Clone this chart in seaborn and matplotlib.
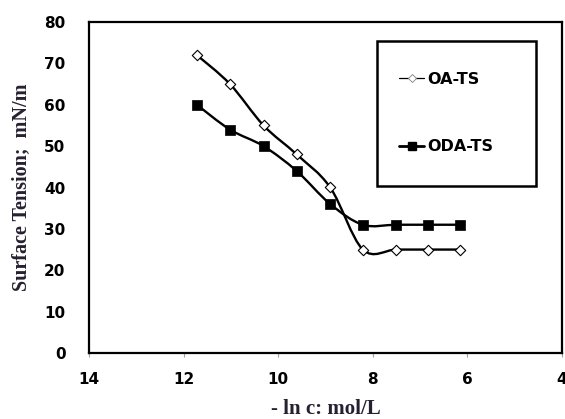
import numpy as np
import matplotlib
matplotlib.use("Agg")
import matplotlib.pyplot as plt
import seaborn as sns
import pandas as pd
from matplotlib.path import Path
from matplotlib.patches import PathPatch, Rectangle
from matplotlib.lines import Line2D

# -ln c (c in mol/L) and measured surface tension (mN/m)
neg_ln_c = [11.72, 11.02, 10.31, 9.61, 8.90, 8.21, 7.51, 6.83, 6.15]
oa_ts = [72, 65, 55, 48, 40, 25, 25, 25, 25]
oda_ts = [60, 54, 50, 44, 36, 31, 31, 31, 31]
series_names = ["OA-TS", "ODA-TS"]

x_ticks = [14, 12, 10, 8, 6, 4]
y_ticks = [0, 10, 20, 30, 40, 50, 60, 70, 80]

sns.set_theme(style="white")
plt.rcParams["font.family"] = ["DejaVu Sans"]
plt.rcParams["text.color"] = "black"
plt.rcParams["xtick.color"] = "black"
plt.rcParams["ytick.color"] = "black"

df = pd.DataFrame({"x": neg_ln_c * 2,
                   "y": oa_ts + oda_ts,
                   "series": [series_names[0]] * len(neg_ln_c) + [series_names[1]] * len(neg_ln_c)})

fig = plt.figure(figsize=(5.65, 4.19), dpi=100)
ax = fig.add_axes([89 / 565, 66 / 419, 473 / 565, 331 / 419])


def smooth_path(xs, ys):
    """Cubic Bezier path through the points (Catmull-Rom style tangents)."""
    pts = np.column_stack([xs, ys]).astype(float)
    n = len(pts)
    verts = [pts[0]]
    codes = [Path.MOVETO]
    for i in range(n - 1):
        p0 = pts[max(i - 1, 0)]
        p1 = pts[i]
        p2 = pts[i + 1]
        p3 = pts[min(i + 2, n - 1)]
        c1 = p1 + (p2 - p0) / 6.0
        c2 = p2 - (p3 - p1) / 6.0
        verts += [c1, c2, p2]
        codes += [Path.CURVE4] * 3
    return Path(verts, codes)


for ys in (oa_ts, oda_ts):
    ax.add_patch(PathPatch(smooth_path(neg_ln_c, ys), fill=False,
                           edgecolor="black", lw=1.7, zorder=2))

sns.scatterplot(data=df[df.series == series_names[1]], x="x", y="y", ax=ax,
                marker="s", s=55, color="black", edgecolor="black",
                linewidth=0.5, zorder=3, legend=False)
sns.scatterplot(data=df[df.series == series_names[0]], x="x", y="y", ax=ax,
                marker="D", s=28, color="white", edgecolor="black",
                linewidth=0.8, zorder=3, legend=False)

ax.set_xlim(14, 4)
ax.set_ylim(0, 80)
ax.set_xticks(x_ticks)
ax.set_yticks(y_ticks)
ax.set_xticklabels([str(t) for t in x_ticks], fontweight="bold", fontsize=11,
                   color="black")
ax.set_yticklabels([str(t) for t in y_ticks], fontweight="bold", fontsize=11,
                   color="black")
ax.tick_params(axis="x", which="major", bottom=True, length=3, width=0.8,
               color="#a0a0a0", pad=11)
ax.tick_params(axis="y", which="major", left=False, length=0, pad=17)

for sp in ax.spines.values():
    sp.set_visible(True)
    sp.set_color("black")
    sp.set_linewidth(1.6)

label_color = "#262030"
ax.set_xlabel("- ln c: mol/L", family=["Liberation Serif", "DejaVu Serif"],
              fontweight="bold", fontsize=15, color=label_color, labelpad=8)
ax.set_ylabel("Surface Tension;  mN/m", family=["Liberation Serif", "DejaVu Serif"],
              fontweight="bold", fontsize=14.5, color=label_color, labelpad=9)

# legend box
ax.add_patch(Rectangle((0.609, 0.505), 0.336, 0.438, transform=ax.transAxes,
                       fill=False, edgecolor="black", lw=1.8, zorder=4))
handles = [
    Line2D([], [], color="black", lw=0.9, marker="D", markersize=4,
           markerfacecolor="white", markeredgecolor="#808080", markeredgewidth=0.6),
    Line2D([], [], color="black", lw=2.0, marker="s", markersize=5.5,
           markerfacecolor="black", markeredgecolor="black"),
]
leg = ax.legend(handles, series_names, loc="center left",
                bbox_to_anchor=(0.655, 0.725), frameon=False, handlelength=1.6,
                handletextpad=0.15, labelspacing=3.3, borderpad=0, borderaxespad=0,
                prop={"weight": "bold", "size": 11.5})
for t in leg.get_texts():
    t.set_color("black")

fig.savefig("out.png", dpi=100)
